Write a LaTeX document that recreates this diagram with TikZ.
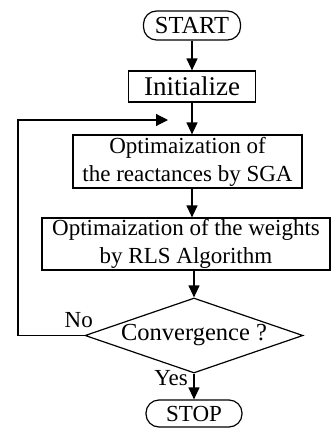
\documentclass[tikz,border=0pt]{standalone}
\usepackage{fontspec}
\setmainfont{Liberation Serif}
\usetikzlibrary{arrows.meta,shapes.geometric}

\begin{document}
\begin{tikzpicture}[
  x=1pt, y=-1pt,
  every node/.style={font=\fontsize{23}{28}\selectfont},
  big/.style={font=\fontsize{24.5}{29}\selectfont},
  term/.style={draw, line width=1.2pt, rounded corners=13pt,
               minimum height=29pt, inner sep=0pt},
  proc/.style={draw, line width=1.2pt, inner sep=0pt, align=center},
  decide/.style={draw, line width=1.2pt, diamond, aspect=2.9,
                 inner sep=0pt, minimum width=218pt, minimum height=75pt},
  every edge/.style={draw, line width=1.2pt,
                     -{Triangle[length=12pt, width=11pt]}},
  arr/.style={line width=1.2pt, -{Triangle[length=12pt, width=12pt]}},
  lbl/.style={inner sep=0pt, anchor=base east}
]
  \useasboundingbox (0,0) rectangle (331,429);

  \node[term, big, minimum width=97pt]  (start) at (192,25.5)  {START};
  \node[proc, minimum width=127pt, minimum height=31pt,
        font=\fontsize{27}{32}\selectfont] (init) at (192,86.5) {Initialize};
  \node[proc, minimum width=229pt, minimum height=53pt]
        (reac) at (187.5,161.5) {Optimaization of\\the reactances by SGA};
  \node[proc, minimum width=288pt, minimum height=52pt]
        (wght) at (186,244) {Optimaization of the weights\\by RLS Algorithm};
  \node[decide, big] (conv) at (194,335.5) {Convergence ?};
  \node[term, minimum width=96pt, minimum height=27pt] (stop) at (194,413.5) {STOP};

  \node[lbl] (no)  at (93,327)  {No};
  \node[lbl] (yes) at (188,385) {Yes};

  % loop back into the main line
  \coordinate (corner)  at (18,120);
  \coordinate (loopend) at (168,120);

  \draw (start) edge (start |- init.north);
  \draw (init.south -| init) edge (init |- reac.north);
  \draw (reac.south -| init) edge (init |- wght.north);
  \draw (wght.south -| conv) edge (conv.north);
  \draw (conv.south) edge (stop.north);
  \draw[arr] (conv.west) -| (corner) -- (loopend);
\end{tikzpicture}
\end{document}
